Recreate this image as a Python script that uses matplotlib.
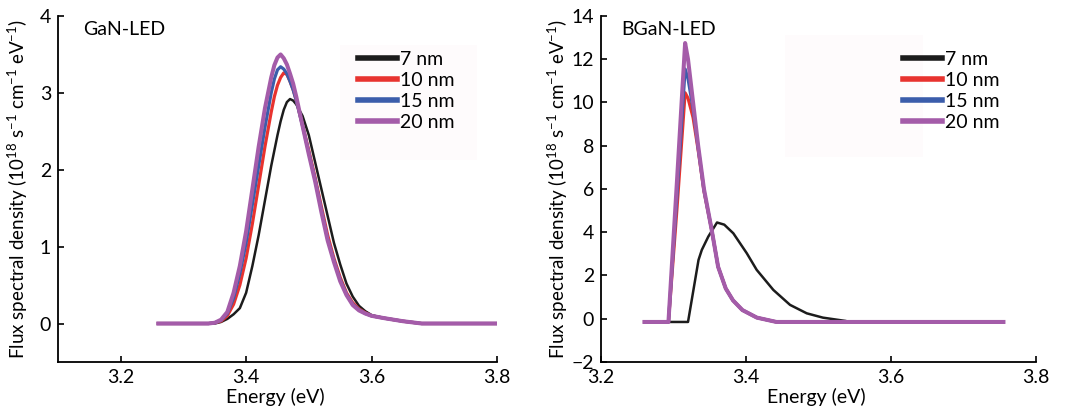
import numpy as np
import matplotlib
matplotlib.use("Agg")
import matplotlib.pyplot as plt
from matplotlib.patches import Rectangle

plt.rcParams['font.family'] = ['Lato', 'DejaVu Sans']
plt.rcParams['mathtext.fontset'] = 'custom'
plt.rcParams['mathtext.rm'] = 'Lato'
plt.rcParams['mathtext.it'] = 'Lato'

labels = ['7 nm', '10 nm', '15 nm', '20 nm']
colors = ['#1c1c1c', '#e8332f', '#3b5dab', '#a45ca9']
widths = [1.8, 2.3, 2.3, 2.9]

# GaN-LED spectra (10^18 s^-1 cm^-1 eV^-1)
gan_x = [3.26, 3.34, 3.35, 3.36, 3.37, 3.38, 3.39, 3.40, 3.41, 3.42, 3.43, 3.44,
         3.445, 3.45, 3.455, 3.46, 3.465, 3.47, 3.475, 3.48, 3.49, 3.50, 3.51,
         3.52, 3.53, 3.54, 3.55, 3.56, 3.57, 3.58, 3.59, 3.60, 3.62, 3.65, 3.68, 3.80]
gan_7 = [0, 0, 0, 0.02, 0.06, 0.12, 0.2, 0.4, 0.75, 1.15, 1.6, 2.05,
         2.25, 2.45, 2.63, 2.78, 2.88, 2.92, 2.9, 2.85, 2.7, 2.45, 2.1,
         1.75, 1.4, 1.05, 0.77, 0.52, 0.35, 0.23, 0.16, 0.11, 0.07, 0.03, 0, 0]
gan_10 = [0, 0, 0.01, 0.03, 0.1, 0.25, 0.5, 0.85, 1.3, 1.8, 2.3, 2.75,
          2.95, 3.1, 3.2, 3.26, 3.24, 3.15, 3.04, 2.9, 2.58, 2.25, 1.9,
          1.52, 1.15, 0.85, 0.6, 0.4, 0.27, 0.19, 0.14, 0.1, 0.07, 0.03, 0, 0]
gan_15 = [0, 0, 0.01, 0.04, 0.13, 0.33, 0.65, 1.05, 1.55, 2.05, 2.55, 3.0,
          3.18, 3.3, 3.34, 3.31, 3.25, 3.15, 3.04, 2.9, 2.57, 2.22, 1.87,
          1.48, 1.1, 0.82, 0.57, 0.38, 0.25, 0.18, 0.13, 0.1, 0.07, 0.03, 0, 0]
gan_20 = [0, 0, 0.01, 0.05, 0.15, 0.4, 0.75, 1.2, 1.75, 2.3, 2.8, 3.2,
          3.36, 3.46, 3.5, 3.45, 3.37, 3.25, 3.12, 2.95, 2.57, 2.2, 1.85,
          1.45, 1.08, 0.8, 0.55, 0.37, 0.24, 0.17, 0.13, 0.1, 0.07, 0.03, 0, 0]

# BGaN-LED spectra
bgan_x = [3.26, 3.293, 3.305, 3.316, 3.32, 3.327, 3.334, 3.342, 3.3527,
          3.3615, 3.372, 3.382, 3.395, 3.415, 3.442, 3.755]
bgan_10 = [-0.15, -0.15, 5.2, 10.45, 10.2, 9.3, 7.8, 5.9, 4.1,
           2.4, 1.4, 0.85, 0.4, 0.05, -0.15, -0.15]
bgan_15 = [-0.15, -0.15, 5.8, 11.55, 11.1, 9.7, 7.9, 5.95, 4.1,
           2.4, 1.4, 0.85, 0.4, 0.05, -0.15, -0.15]
bgan_20 = [-0.15, -0.15, 6.5, 12.75, 12.0, 10.0, 8.0, 6.0, 4.1,
           2.4, 1.4, 0.85, 0.4, 0.05, -0.15, -0.15]
bgan_x7 = [3.26, 3.320, 3.3345, 3.339, 3.348, 3.360, 3.37, 3.3825, 3.401,
           3.4147, 3.4377, 3.4607, 3.4837, 3.506, 3.5366]
bgan_7 = [-0.15, -0.15, 2.72, 3.18, 3.8, 4.45, 4.35, 3.95, 3.03,
          2.26, 1.33, 0.64, 0.25, 0.05, -0.1]

fig = plt.figure(figsize=(10.66, 4.17), dpi=100)
ax1 = fig.add_axes([0.0544, 0.132, 0.4118, 0.8296])
ax2 = fig.add_axes([0.5638, 0.132, 0.4081, 0.8296])

for y, c, w, lab in zip([gan_7, gan_10, gan_15, gan_20], colors, widths, labels):
    ax1.plot(gan_x, y, color=c, lw=w, label=lab, solid_joinstyle='round')

ax2.plot(bgan_x7, bgan_7, color=colors[0], lw=widths[0], label=labels[0])
for y, c, w, lab in zip([bgan_10, bgan_15, bgan_20], colors[1:], widths[1:], labels[1:]):
    ax2.plot(bgan_x, y, color=c, lw=w, label=lab, solid_joinstyle='round')

ylab = r'Flux spectral density (10$^{18}$ s$^{-1}$ cm$^{-1}$ eV$^{-1}$)'

# very faint boxes behind the legends
ax1.add_patch(Rectangle((0.642, 0.584), 0.312, 0.332, transform=ax1.transAxes,
                        facecolor='#fefbfc', edgecolor='none', zorder=0))
ax2.add_patch(Rectangle((0.423, 0.592), 0.317, 0.353, transform=ax2.transAxes,
                        facecolor='#fefbfc', edgecolor='none', zorder=0))

for ax, lx, ylx in ((ax1, 0.683, -0.064), (ax2, 0.694, -0.071)):
    ax.spines['top'].set_visible(False)
    ax.spines['right'].set_visible(False)
    ax.spines['left'].set_linewidth(1.3)
    ax.spines['bottom'].set_linewidth(1.3)
    ax.tick_params(direction='in', length=4, width=1.2, labelsize=14, pad=5)
    ax.set_xticks([3.2, 3.4, 3.6, 3.8])
    ax.set_xlabel('Energy (eV)', fontsize=14)
    ax.set_ylabel(ylab, fontsize=13.5)
    ax.xaxis.set_label_coords(0.494, -0.075)
    ax.yaxis.set_label_coords(ylx, 0.5)
    leg = ax.legend(loc='upper left', bbox_to_anchor=(lx, 0.898), frameon=False,
                    fontsize=14, handlelength=2.0, handletextpad=0.15,
                    labelspacing=0.2, borderpad=0, borderaxespad=0)
    for line in leg.get_lines():
        line.set_linewidth(4)

ax1.set_xlim(3.1, 3.8)
ax1.set_ylim(-0.5, 4)
ax1.set_yticks([0, 1, 2, 3, 4])
ax1.text(0.057, 0.985, 'GaN-LED', transform=ax1.transAxes, fontsize=14, va='top')

ax2.set_xlim(3.2, 3.8)
ax2.set_ylim(-2, 14)
ax2.set_yticks(np.arange(-2, 15, 2))
ax2.text(0.046, 0.985, 'BGaN-LED', transform=ax2.transAxes, fontsize=14, va='top')

fig.savefig('out.png', dpi=100)
